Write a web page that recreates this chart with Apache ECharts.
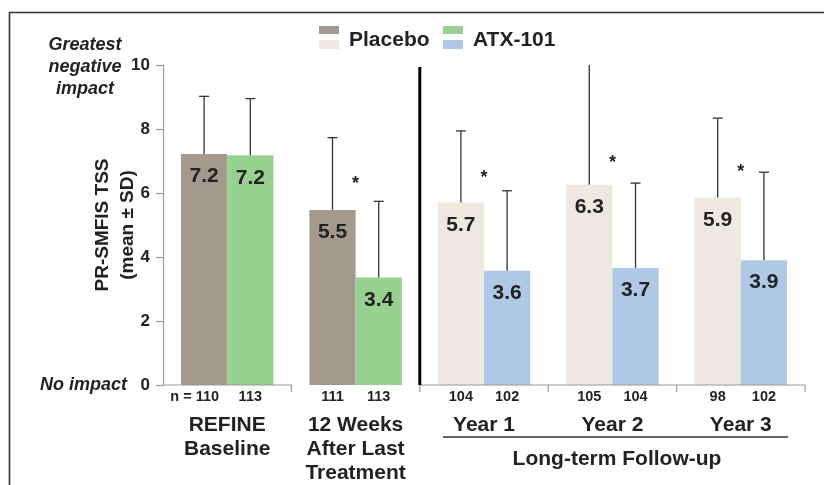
<!DOCTYPE html>
<html>
<head>
<meta charset="utf-8">
<script src="https://cdn.jsdelivr.net/npm/echarts@6/dist/echarts.min.js"></script>
<style>
html,body{margin:0;padding:0;background:#fff;}
#chart{width:824px;height:485px;}
</style>
</head>
<body>
<div id="chart"></div>
<script>
// ---- data ----
const categories = ['REFINE\nBaseline', '12 Weeks\nAfter Last\nTreatment', 'Year 1', 'Year 2', 'Year 3'];
const phase = ['trial', 'trial', 'followup', 'followup', 'followup'];
const placeboMean = [7.22, 5.47, 5.70, 6.26, 5.86];
const atxMean = [7.18, 3.36, 3.57, 3.66, 3.90];
const placeboSD = [1.80, 2.26, 2.24, 3.80, 2.48];
const atxSD = [1.77, 2.38, 2.50, 2.65, 2.75];
const nPlacebo = [110, 111, 104, 105, 98];
const nAtx = [113, 113, 102, 104, 102];
const significant = [false, true, true, true, true];
const starLevel = [null, 6.4, 6.6, 7.06, 6.78];
const yTicks = [0, 2, 4, 6, 8, 10];

const FONT = '"Liberation Sans", Arial, Helvetica, sans-serif';
const colors = {
  placebo: { trial: '#a4998d', followup: '#efe8de' },
  atx: { trial: '#98d08f', followup: '#aec8e6' }
};
const BAR_FRAC = 0.36;
const Y_MAX = 10;

const chart = echarts.init(document.getElementById('chart'));

function errorData(means, sds, side) {
  return means.map((m, i) => [i, m, sds[i], side]);
}

const option = {
  animation: false,
  backgroundColor: '#fff',
  textStyle: { fontFamily: FONT },
  grid: { left: 163, right: 19, top: 65, bottom: 100, containLabel: false },
  xAxis: {
    type: 'category',
    data: categories,
    axisLine: { show: false },
    axisTick: { show: false },
    axisLabel: {
      interval: 0,
      margin: 28,
      fontSize: 21,
      fontWeight: 'bold',
      color: '#222',
      lineHeight: 24,
      fontFamily: FONT
    }
  },
  yAxis: {
    type: 'value',
    min: 0,
    max: Y_MAX,
    interval: 2,
    name: 'PR-SMFIS TSS\n(mean ± SD)',
    nameLocation: 'middle',
    nameGap: 23,
    nameMoveOverlap: false,
    nameRotate: 90,
    nameTextStyle: { fontSize: 19, fontWeight: 'bold', color: '#222', lineHeight: 25, fontFamily: FONT },
    axisLine: { show: true, lineStyle: { color: '#999', width: 1.2 } },
    axisTick: { show: true, length: 7, lineStyle: { color: '#999', width: 1.2 } },
    axisLabel: { margin: 13, fontSize: 17, fontWeight: 'bold', color: '#222', fontFamily: FONT },
    splitLine: { show: false }
  },
  series: [
    {
      name: 'Placebo',
      type: 'bar',
      barWidth: (BAR_FRAC * 100) + '%',
      barGap: '0%',
      data: placeboMean.map((v, i) => ({ value: v, itemStyle: { color: colors.placebo[phase[i]] } })),
      label: {
        show: true, position: 'insideTop', distance: 12,
        formatter: p => p.value.toFixed(1),
        fontSize: 21, fontWeight: 'bold', color: '#222', fontFamily: FONT
      },
      z: 2
    },
    {
      name: 'ATX-101',
      type: 'bar',
      barWidth: (BAR_FRAC * 100) + '%',
      barGap: '0%',
      data: atxMean.map((v, i) => ({ value: v, itemStyle: { color: colors.atx[phase[i]] } })),
      label: {
        show: true, position: 'insideTop', distance: 12,
        formatter: p => p.value.toFixed(1),
        fontSize: 21, fontWeight: 'bold', color: '#222', fontFamily: FONT
      },
      z: 2
    },
    {
      name: 'errors',
      type: 'custom',
      clip: false,
      z: 5,
      data: errorData(placeboMean, placeboSD, -1).concat(errorData(atxMean, atxSD, 1)),
      renderItem: function (params, api) {
        const idx = api.value(0), mean = api.value(1), sd = api.value(2), side = api.value(3);
        const band = api.size([1, 0])[0];
        const cx = api.coord([idx, 0])[0] + side * band * BAR_FRAC / 2;
        const top = mean + sd;
        const clipped = top > Y_MAX;
        const yb = api.coord([idx, mean])[1];
        const yt = api.coord([idx, Math.min(top, Y_MAX)])[1];
        const st = { stroke: '#333', lineWidth: 1.3 };
        const ch = [{ type: 'line', shape: { x1: cx, y1: yb, x2: cx, y2: yt }, style: st }];
        if (!clipped) ch.push({ type: 'line', shape: { x1: cx - 5, y1: yt, x2: cx + 5, y2: yt }, style: st });
        return { type: 'group', children: ch };
      }
    },
    {
      name: 'decor',
      type: 'custom',
      clip: false,
      z: 6,
      data: [[0]],
      renderItem: function (params, api) {
        const band = api.size([1, 0])[0];
        const y0 = api.coord([0, 0])[1];
        const yTop = api.coord([0, Y_MAX])[1];
        const left = i => api.coord([i, 0])[0] - band / 2;
        const axisSt = { stroke: '#999', lineWidth: 1.2 };
        const ch = [];
        // broken x-axis: under baseline group and under long-term follow-up
        ch.push({ type: 'line', shape: { x1: left(0), y1: y0, x2: left(1), y2: y0 }, style: axisSt });
        ch.push({ type: 'line', shape: { x1: left(1), y1: y0, x2: left(1), y2: y0 + 7 }, style: axisSt });
        ch.push({ type: 'line', shape: { x1: left(2), y1: y0, x2: left(4) + band, y2: y0 }, style: axisSt });
        [2, 3, 4, 5].forEach(k => {
          const x = left(2) + (k - 2) * band;
          ch.push({ type: 'line', shape: { x1: x, y1: y0, x2: x, y2: y0 + 7 }, style: axisSt });
        });
        // separator
        ch.push({ type: 'line', shape: { x1: left(2), y1: y0, x2: left(2), y2: yTop + 2 }, style: { stroke: '#000', lineWidth: 3 } });
        // n labels
        categories.forEach((c, i) => {
          const cx = api.coord([i, 0])[0];
          const off = band * BAR_FRAC / 2;
          const txtSt = { fill: '#222', fontSize: 14.5, fontWeight: 'bold', fontFamily: FONT, verticalAlign: 'middle' };
          if (i === 0) {
            ch.push({ type: 'text', style: Object.assign({ text: 'n = ' + nPlacebo[i], x: cx - off + 15, y: y0 + 12, align: 'right' }, txtSt) });
          } else {
            ch.push({ type: 'text', style: Object.assign({ text: String(nPlacebo[i]), x: cx - off, y: y0 + 12, align: 'center' }, txtSt) });
          }
          ch.push({ type: 'text', style: Object.assign({ text: String(nAtx[i]), x: cx + off, y: y0 + 12, align: 'center' }, txtSt) });
          if (significant[i]) {
            const p = api.coord([i, starLevel[i]]);
            ch.push({ type: 'text', style: { text: '*', x: p[0], y: p[1] + 4, align: 'center', verticalAlign: 'middle', fill: '#222', fontSize: 18, fontWeight: 'bold', fontFamily: FONT } });
          }
        });
        return { type: 'group', children: ch };
      }
    }
  ],
  graphic: [
    // frame
    { type: 'line', shape: { x1: 9, y1: 12.5, x2: 824, y2: 12.5 }, style: { stroke: '#333', lineWidth: 1.6 } },
    { type: 'line', shape: { x1: 9.5, y1: 12, x2: 9.5, y2: 485 }, style: { stroke: '#333', lineWidth: 1.6 } },
    // legend
    { type: 'rect', shape: { x: 319, y: 26, width: 20, height: 8 }, style: { fill: colors.placebo.trial } },
    { type: 'rect', shape: { x: 319, y: 40, width: 20, height: 9 }, style: { fill: colors.placebo.followup } },
    { type: 'text', style: { text: 'Placebo', x: 349, y: 40, verticalAlign: 'middle', fill: '#222', fontSize: 21, fontWeight: 'bold', fontFamily: FONT } },
    { type: 'rect', shape: { x: 443, y: 26, width: 20, height: 8 }, style: { fill: colors.atx.trial } },
    { type: 'rect', shape: { x: 443, y: 40, width: 20, height: 9 }, style: { fill: colors.atx.followup } },
    { type: 'text', style: { text: 'ATX-101', x: 473, y: 40, verticalAlign: 'middle', fill: '#222', fontSize: 21, fontWeight: 'bold', fontFamily: FONT } },
    // y-axis anchors
    { type: 'text', style: { text: 'Greatest\nnegative\nimpact', x: 85, y: 67, align: 'center', verticalAlign: 'middle', lineHeight: 22, fill: '#222', fontSize: 18, fontWeight: 'bold', fontStyle: 'italic', fontFamily: FONT } },
    { type: 'text', style: { text: 'No impact', x: 127, y: 385, align: 'right', verticalAlign: 'middle', fill: '#222', fontSize: 18, fontWeight: 'bold', fontStyle: 'italic', fontFamily: FONT } },
    // long-term follow-up bracket
    { type: 'line', shape: { x1: 443, y1: 437, x2: 788, y2: 437 }, style: { stroke: '#333', lineWidth: 1.5 } },
    { type: 'text', style: { text: 'Long-term Follow-up', x: 617, y: 459, align: 'center', verticalAlign: 'middle', fill: '#222', fontSize: 21, fontWeight: 'bold', fontFamily: FONT } }
  ]
};
chart.setOption(option);
</script>
</body>
</html>
